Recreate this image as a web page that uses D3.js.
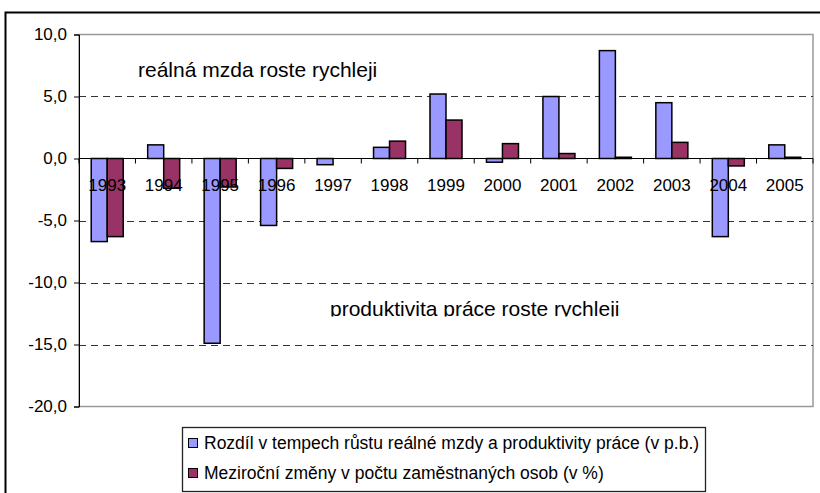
<!DOCTYPE html>
<html>
<head>
<meta charset="utf-8">
<script src="https://cdn.jsdelivr.net/npm/d3@7"></script>
<style>
    body { margin: 0; background: #fff; }
    svg { display: block; font-family: "Liberation Sans", Arial, sans-serif; }
</style>
</head>
<body>
<script>
const width = 820;
const height = 493;

// data
const years = ["1993", "1994", "1995", "1996", "1997", "1998", "1999", "2000", "2001", "2002", "2003", "2004", "2005"];
const wageGap = [-6.7, 1.1, -14.9, -5.4, -0.5, 0.9, 5.2, -0.3, 5.0, 8.7, 4.5, -6.3, 1.1];
const employment = [-6.3, -2.4, -2.3, -0.8, 0, 1.4, 3.1, 1.2, 0.4, 0.1, 1.3, -0.6, 0.1];
const yTicks = [10, 5, 0, -5, -10, -15, -20];
const seriesNames = [
    "Rozdíl v tempech růstu reálné mzdy a produktivity práce (v p.b.)",
    "Meziroční změny v počtu zaměstnaných osob (v %)",
];
const seriesKeys = ["gap", "emp"];
const colours = { gap: "#9999FF", emp: "#993366" };

const data = years.map((y, i) => ({ year: y, gap: wageGap[i], emp: employment[i] }));

const margin = { top: 34.5, right: 7, bottom: 86.5, left: 79 };
const innerW = width - margin.left - margin.right;

const svg = d3
    .select("body")
    .append("svg")
    .attr("width", width)
    .attr("height", height);

// outer frame (runs off the page on right and bottom)
svg.append("rect")
    .attr("x", 5.5)
    .attr("y", 12.5)
    .attr("width", 900)
    .attr("height", 600)
    .attr("fill", "none")
    .attr("stroke", "#000")
    .attr("stroke-width", 2);

const x = d3
    .scaleBand()
    .domain(years)
    .range([margin.left, width - margin.right])
    .paddingInner(0.433)
    .paddingOuter(0.2165);

const xs = d3.scaleBand().domain(seriesKeys).range([0, x.bandwidth()]);

const y = d3
    .scaleLinear()
    .domain([-20, 10])
    .range([height - margin.bottom, margin.top]);

const fmt = (d) => d3.format(".1f")(d).replace(".", ",").replace("−", "-");

// plot area border
svg.append("rect")
    .attr("x", margin.left)
    .attr("y", y(10))
    .attr("width", innerW)
    .attr("height", y(-20) - y(10))
    .attr("fill", "none")
    .attr("stroke", "#999")
    .attr("stroke-width", 1.5);

// dashed grid
svg.append("g")
    .selectAll("line")
    .data(yTicks.filter((d) => d !== 10 && d !== 0 && d !== -20))
    .enter()
    .append("line")
    .attr("x1", margin.left)
    .attr("x2", width - margin.right)
    .attr("y1", (d) => Math.round(y(d)) + 0.5)
    .attr("y2", (d) => Math.round(y(d)) + 0.5)
    .attr("stroke", "#333")
    .attr("stroke-dasharray", "7,5");

// y axis
const yAxis = svg
    .append("g")
    .attr("transform", `translate(${margin.left},0)`)
    .call(
        d3.axisLeft(y)
            .tickValues(yTicks)
            .tickFormat(fmt)
            .tickSize(5)
            .tickPadding(7)
    );
yAxis.select(".domain").attr("stroke", "#000");
yAxis.selectAll("text")
    .attr("font-size", 17)
    .attr("fill", "#000")
    .attr("font-family", "Liberation Sans, Arial, sans-serif");

// bars
const groups = svg
    .append("g")
    .selectAll("g")
    .data(data)
    .enter()
    .append("g")
    .attr("transform", (d) => `translate(${x(d.year)},0)`);

groups
    .selectAll("rect")
    .data((d) => seriesKeys.map((k) => ({ key: k, value: d[k] })))
    .enter()
    .append("rect")
    .attr("x", (d) => xs(d.key))
    .attr("width", xs.bandwidth())
    .attr("y", (d) => y(Math.max(0, d.value)))
    .attr("height", (d) => Math.abs(y(d.value) - y(0)))
    .attr("fill", (d) => colours[d.key])
    .attr("stroke", "#000")
    .attr("stroke-width", 1.5);

// zero axis with ticks at category boundaries
const zeroY = y(0);
svg.append("line")
    .attr("x1", margin.left)
    .attr("x2", width - margin.right)
    .attr("y1", zeroY)
    .attr("y2", zeroY)
    .attr("stroke", "#000")
    .attr("stroke-width", 1.2);

svg.append("g")
    .selectAll("line")
    .data(d3.range(years.length + 1))
    .enter()
    .append("line")
    .attr("x1", (i) => margin.left + i * x.step())
    .attr("x2", (i) => margin.left + i * x.step())
    .attr("y1", zeroY)
    .attr("y2", zeroY + 5)
    .attr("stroke", "#000");

// category labels on top of bars
svg.append("g")
    .selectAll("text")
    .data(years)
    .enter()
    .append("text")
    .attr("x", (d) => x(d) + x.bandwidth() / 2)
    .attr("y", zeroY + 32)
    .attr("text-anchor", "middle")
    .attr("font-size", 17)
    .attr("fill", "#000")
    .text((d) => d);

// annotations
svg.append("text")
    .attr("x", 138)
    .attr("y", 77)
    .attr("font-size", 21)
    .attr("fill", "#000")
    .text("reálná mzda roste rychleji");

svg.append("clipPath")
    .attr("id", "cut")
    .append("rect")
    .attr("x", 0)
    .attr("y", 0)
    .attr("width", width)
    .attr("height", 316.5);

svg.append("text")
    .attr("x", 330)
    .attr("y", 316)
    .attr("font-size", 21)
    .attr("fill", "#000")
    .attr("clip-path", "url(#cut)")
    .text("produktivita práce roste rychleji");

// legend
const legend = svg.append("g");
legend.append("rect")
    .attr("x", 182.5)
    .attr("y", 427.5)
    .attr("width", 523)
    .attr("height", 64)
    .attr("fill", "#fff")
    .attr("stroke", "#222")
    .attr("stroke-width", 1.3);

const legendItems = legend
    .selectAll(".legend-item")
    .data(seriesKeys)
    .enter()
    .append("g")
    .attr("class", "legend-item")
    .attr("transform", (d, i) => `translate(188, ${443 + i * 30})`);

legendItems
    .append("rect")
    .attr("x", 0.5)
    .attr("y", -4.5)
    .attr("width", 9)
    .attr("height", 9)
    .attr("fill", (d) => colours[d])
    .attr("stroke", "#000");

legendItems
    .append("text")
    .attr("x", 16)
    .attr("y", 6)
    .attr("font-size", 17.5)
    .attr("fill", "#000")
    .text((d, i) => seriesNames[i]);
</script>
</body>
</html>
